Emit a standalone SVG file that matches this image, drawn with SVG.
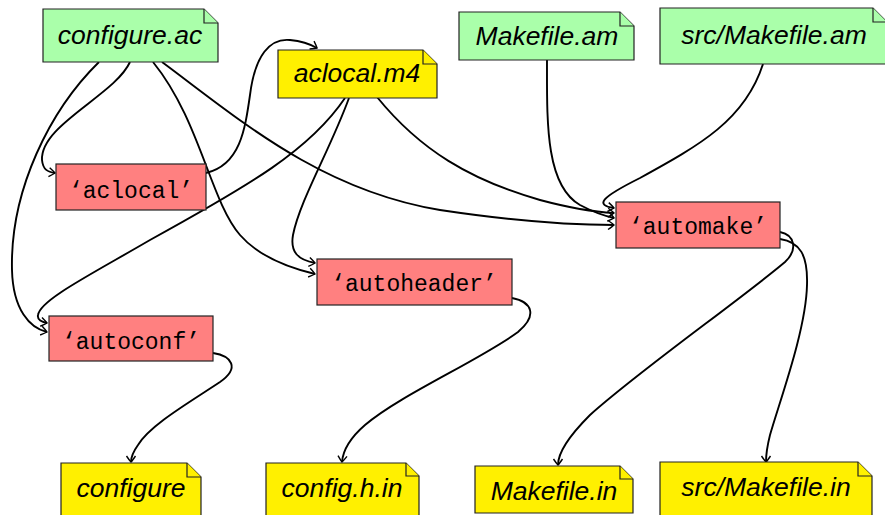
<svg xmlns="http://www.w3.org/2000/svg" width="885" height="515" viewBox="0 0 885 515">
<defs>
<style>
.note path{stroke:#222;stroke-width:1.2;stroke-linejoin:miter}
.src path{fill:#aaffaa}
.out path{fill:#fff000}
.tool rect{fill:#ff8080;stroke:#222;stroke-width:1.2}
.nt{font-family:"Liberation Sans",Arial,sans-serif;font-style:italic;font-size:26.5px;fill:#000;text-anchor:middle}
.tt{font-family:"Liberation Mono","Courier New",monospace;font-size:23px;fill:#000;text-anchor:middle}
.edges path{fill:none;stroke:#000;stroke-width:1.9;marker-end:url(#arr)}
</style>
<marker id="arr" viewBox="-7 -6 9 12" markerWidth="9" markerHeight="12" refX="0" refY="0" orient="auto" markerUnits="userSpaceOnUse">
<path d="M-6,-4.5 Q-1.5,-1.5 0,0 Q-1.5,1.5 -6,4.5" fill="none" stroke="#000" stroke-width="1.4"/>
</marker>
</defs>
<rect width="885" height="515" fill="#fff"/>
<g class="edges">
<path d="M130,62 C115,95 40,125 42,160 C43,170 48,172 55,173"/>
<path d="M99,62 C50,110 10,190 12,270 C13,310 30,328 47,332"/>
<path d="M153,62 C200,120 210,200 240,235 C260,258 290,268 315,274"/>
<path d="M162,62 C240,120 320,190 440,210 C520,222 580,225 614,225"/>
<path d="M206,173 C240,165 245,130 250,95 C255,55 270,38 290,40 C300,41 310,44 317,48"/>
<path d="M345,98 C310,150 250,185 150,240 C90,275 40,300 38,315 C37,320 42,322 47,323"/>
<path d="M349,98 C330,150 300,200 293,235 C290,252 298,260 315,263"/>
<path d="M377,97 C420,150 470,180 540,200 C570,208 595,212 614,213"/>
<path d="M547,60 C547,120 545,185 580,205 C595,213 605,216 614,218"/>
<path d="M763,64 C745,120 700,145 640,178 C600,198 595,205 614,208"/>
<path d="M213,353 C232,356 240,368 220,382 C190,402 150,425 138,445 C133,452 131,458 131,462"/>
<path d="M512,298 C532,302 538,315 518,332 C480,360 400,395 365,425 C350,438 343,450 342,462"/>
<path d="M780,232 C795,235 798,250 785,262 C740,300 640,370 590,415 C565,440 558,455 558,465"/>
<path d="M780,239 C800,242 808,255 807,285 C806,330 780,400 770,435 C767,447 766,455 766,462"/>
</g>
<g id="configure_ac" class="note src">
<path d="M43,9 H204 L218,23 V62 H43 Z"/><path d="M204,9 V23 H218"/>
<text class="nt" x="130" y="44">configure.ac</text>
</g>
<g id="aclocal_m4" class="note out">
<path d="M278,50 H423 L437,64 V98 H278 Z"/><path d="M423,50 V64 H437"/>
<text class="nt" x="357" y="82">aclocal.m4</text>
</g>
<g id="makefile_am" class="note src">
<path d="M459,12 H620 L634,26 V60 H459 Z"/><path d="M620,12 V26 H634"/>
<text class="nt" x="547" y="45">Makefile.am</text>
</g>
<g id="src_makefile_am" class="note src">
<path d="M660,8 H873 L887,22 V64 H660 Z"/><path d="M873,8 V22 H887"/>
<text class="nt" x="774" y="44">src/Makefile.am</text>
</g>
<g id="aclocal" class="tool">
<rect x="56" y="164" width="150" height="46"/>
<text class="tt" x="131" y="198">‘aclocal’</text>
</g>
<g id="automake" class="tool">
<rect x="616" y="202" width="164" height="46"/>
<text class="tt" x="698" y="234">‘automake’</text>
</g>
<g id="autoheader" class="tool">
<rect x="317" y="259" width="195" height="46"/>
<text class="tt" x="414" y="291">‘autoheader’</text>
</g>
<g id="autoconf" class="tool">
<rect x="49" y="316" width="164" height="45"/>
<text class="tt" x="131" y="349">‘autoconf’</text>
</g>
<g id="configure" class="note out">
<path d="M61,463 H187 L201,477 V520 H61 Z"/><path d="M187,463 V477 H201"/>
<text class="nt" x="131" y="497">configure</text>
</g>
<g id="config_h_in" class="note out">
<path d="M266,463 H406 L419,476 V520 H266 Z"/><path d="M406,463 V476 H419"/>
<text class="nt" x="342" y="497">config.h.in</text>
</g>
<g id="makefile_in" class="note out">
<path d="M475,466 H620 L633,479 V513 H475 Z"/><path d="M620,466 V479 H633"/>
<text class="nt" x="554" y="500">Makefile.in</text>
</g>
<g id="src_makefile_in" class="note out">
<path d="M660,462 H858 L872,476 V520 H660 Z"/><path d="M858,462 V476 H872"/>
<text class="nt" x="766" y="496">src/Makefile.in</text>
</g>
</svg>
